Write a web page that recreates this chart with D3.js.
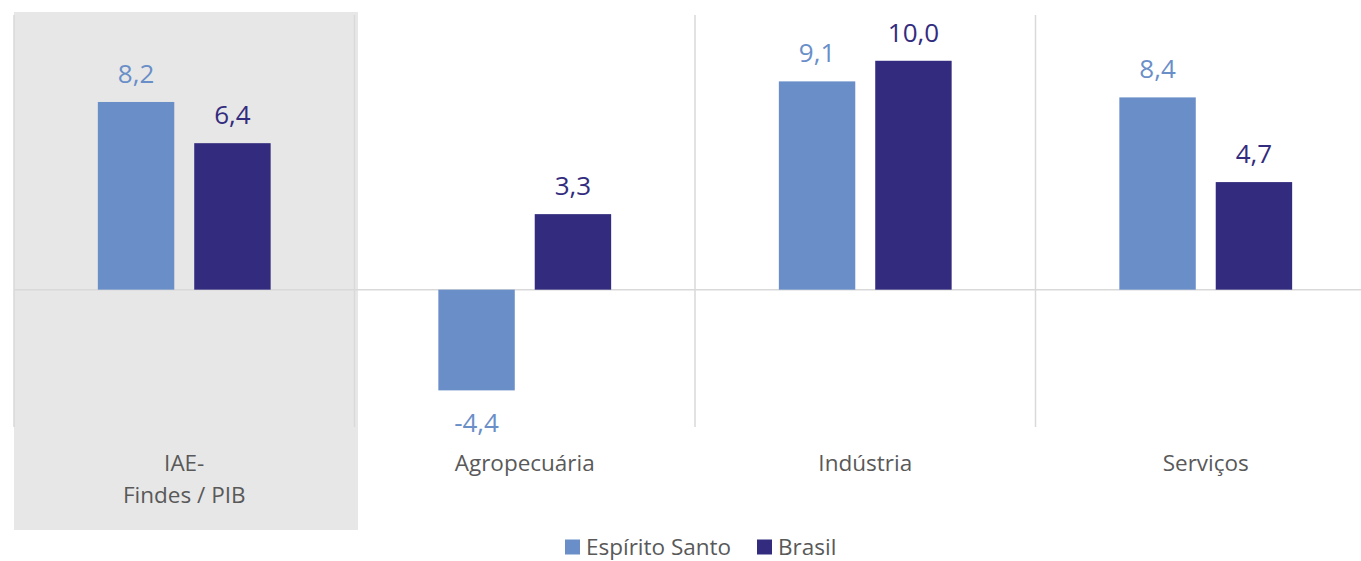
<!DOCTYPE html>
<html><head><meta charset="utf-8">
<script src="https://cdn.jsdelivr.net/npm/d3@7"></script>
<style>body{margin:0;background:#fff;} text{font-family:"Open Sans",sans-serif;}</style>
</head><body>
<svg id="c" width="1361" height="561"></svg>
<script>
const categories = [["IAE-","Findes / PIB"],["Agropecuária"],["Indústria"],["Serviços"]];
const categoryKeys = ["IAE-Findes / PIB","Agropecuária","Indústria","Serviços"];
const seriesNames = ["Espírito Santo","Brasil"];
const espiritoSanto = [8.2, -4.4, 9.1, 8.4];
const brasil = [6.4, 3.3, 10.0, 4.7];
const colors = ["#6a8fc8","#332c7e"];

const svg = d3.select("#c");
const x0 = d3.scaleBand().domain(categoryKeys).range([14, 1376]).padding(0);
const x1 = d3.scaleBand().domain(seriesNames).range([0, x0.bandwidth()]).paddingInner(0.207).paddingOuter(0.87);
const y = d3.scaleLinear().domain([-6, 12]).range([427, 15]);
const fmt = v => d3.format(".1f")(v).replace(".", ",").replace("\u2212", "-");

// highlight shade for first category
svg.append("rect").attr("x", x0(categoryKeys[0])).attr("y", 12)
  .attr("width", x0.bandwidth() + 3.5).attr("height", 518).attr("fill", "#e7e7e7");

// vertical category separators
const g = svg.append("g");
categoryKeys.forEach(k => {
  g.append("line").attr("x1", x0(k)).attr("x2", x0(k)).attr("y1", y(12)).attr("y2", y(-6))
    .attr("stroke", "#d9d9d9").attr("stroke-width", 1.5);
});
// zero line
g.append("line").attr("x1", 14).attr("x2", 1361).attr("y1", y(0)).attr("y2", y(0))
  .attr("stroke", "#d9d9d9").attr("stroke-width", 1.5);

const data = categoryKeys.map((k, i) => ({k, vals: [espiritoSanto[i], brasil[i]]}));
data.forEach(d => {
  d.vals.forEach((v, j) => {
    const bx = x0(d.k) + x1(seriesNames[j]);
    svg.append("rect").attr("x", bx).attr("width", x1.bandwidth())
      .attr("y", y(Math.max(0, v))).attr("height", Math.abs(y(v) - y(0)))
      .attr("fill", colors[j]);
    svg.append("text").attr("x", bx + x1.bandwidth()/2)
      .attr("y", v >= 0 ? y(v) - 19 : y(v) + 42)
      .attr("text-anchor", "middle").attr("font-size", 26).attr("fill", colors[j])
      .text(fmt(v));
  });
});

// category labels
categories.forEach((lines, i) => {
  const cx = x0(categoryKeys[i]) + x0.bandwidth()/2;
  const t = svg.append("text").attr("text-anchor", "middle").attr("font-size", 22.5).attr("fill", "#595959");
  lines.forEach((l, li) => t.append("tspan").attr("x", cx).attr("y", 471 + li*32).text(l));
});

// legend
const legend = [{n: seriesNames[0], c: colors[0], x: 565}, {n: seriesNames[1], c: colors[1], x: 757}];
legend.forEach(l => {
  svg.append("rect").attr("x", l.x).attr("y", 539.5).attr("width", 15).attr("height", 15).attr("fill", l.c);
  svg.append("text").attr("x", l.x + 21).attr("y", 554.5).attr("font-size", 22.5).attr("fill", "#595959").text(l.n);
});
</script>
</body></html>
